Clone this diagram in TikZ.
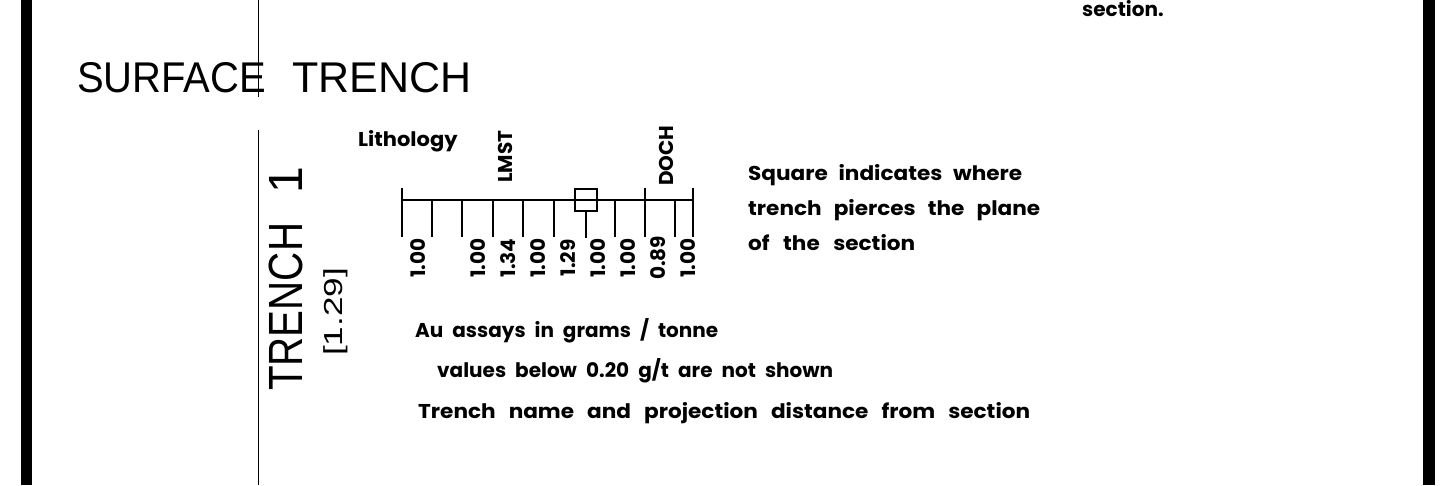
\documentclass[tikz,border=0pt]{standalone}
\usepackage{fontspec}
\setmainfont{Poppins}
\newfontfamily\simplex{Liberation Sans}
\newcommand\spreadto[3][108]{\scalebox{\fpeval{#1/100}}[1]{\makebox[\dimexpr #2*100/#1\relax][s]{#3}}}
\begin{document}
\begin{tikzpicture}[x=1pt,y=-1pt,
  lbl/.style={font=\fontsize{20}{24}\selectfont\bfseries, inner sep=0pt, text=black},
  num/.style={lbl, rotate=90, anchor=center},
  lith/.style={lbl, rotate=90, anchor=west},
  big/.style={font=\simplex\fontsize{43}{50}\selectfont, inner sep=0pt},
  vert/.style={font=\simplex\fontsize{48}{50}\selectfont, inner sep=0pt, rotate=90},
  axisline/.style={line width=2.5pt},
  tick/.style={line width=2pt}]
\useasboundingbox (0,0) rectangle (1441,485);
% borders
\fill (21,0) rectangle (32,485);
\fill (1423,0) rectangle (1435,485);
% thin section line
\coordinate (v0) at (258,0);
\coordinate (v1) at (258,97);
\coordinate (v2) at (258,130);
\coordinate (v3) at (258,485);
\draw[line width=1pt] (v0) -- (v1) (v2) -- (v3);
% titles
\node[big, anchor=base west] (title1) at (77,92) {\scalebox{0.93}[1]{SURFACE}};
\node[big, anchor=base west] (title2) at (292,92) {TRENCH};
\node[lbl, anchor=base west] (sec) at (1082,16) {section.};
% axis
\coordinate (a0) at (402,200);
\coordinate (a1) at (693,200);
\draw[axisline] (a0) -- (a1);
\foreach \x in {402,645,693} \draw[tick] (\x,188) -- (\x,237);
\foreach \x in {432,462,493,523,554,615,675} \draw[tick] (\x,200) -- (\x,237);
\node[draw, line width=2pt, minimum size=22pt, inner sep=0pt] (sq) at (586,200) {};
\draw[tick] (sq.south) -- ++(0,26);
% assay values
\foreach \x/\v in {418/1.00,478/1.00,508/1.34,538/1.00,568/1.29,598/1.00,628/1.00,658/0.89,688/1.00}
  \node[num] at (\x,258) {\v};
% lithology
\node[lbl, anchor=base west] (lithology) at (358,146) {\scalebox{1.05}[1]{Lithology}};
\node[lith] (lmst) at (505,183) {LMST};
\node[lith] (doch) at (666,186) {DOCH};
% trench label
\node[vert, anchor=west] (trench) at (286,391) {\scalebox{0.84}[1]{TRENCH}};
\node[vert, anchor=center] (trenchno) at (286,180) {1};
\node[font=\simplex\fontsize{26}{30}\selectfont, inner sep=0pt, rotate=90, anchor=west] (dist) at (336,356) {\scalebox{1.35}[1]{[1.29]}};
% legend texts
\node[lbl, anchor=base west] (sq1) at (748,180) {\spreadto{274pt}{Square indicates where}};
\node[lbl, anchor=base west] (sq2) at (748,215) {\spreadto{292pt}{trench pierces the plane}};
\node[lbl, anchor=base west] (sq3) at (748,250) {\spreadto{167pt}{of the section}};
\node[lbl, anchor=base west] (au) at (415,337) {\spreadto[100]{303pt}{Au assays in grams / tonne}};
\node[lbl, anchor=base west] (vals) at (437,377) {\spreadto[100]{396pt}{values below 0.20 g/t are not shown}};
\node[lbl, anchor=base west] (tname) at (418,418) {\spreadto{612pt}{Trench name and projection distance from section}};
\end{tikzpicture}
\end{document}
